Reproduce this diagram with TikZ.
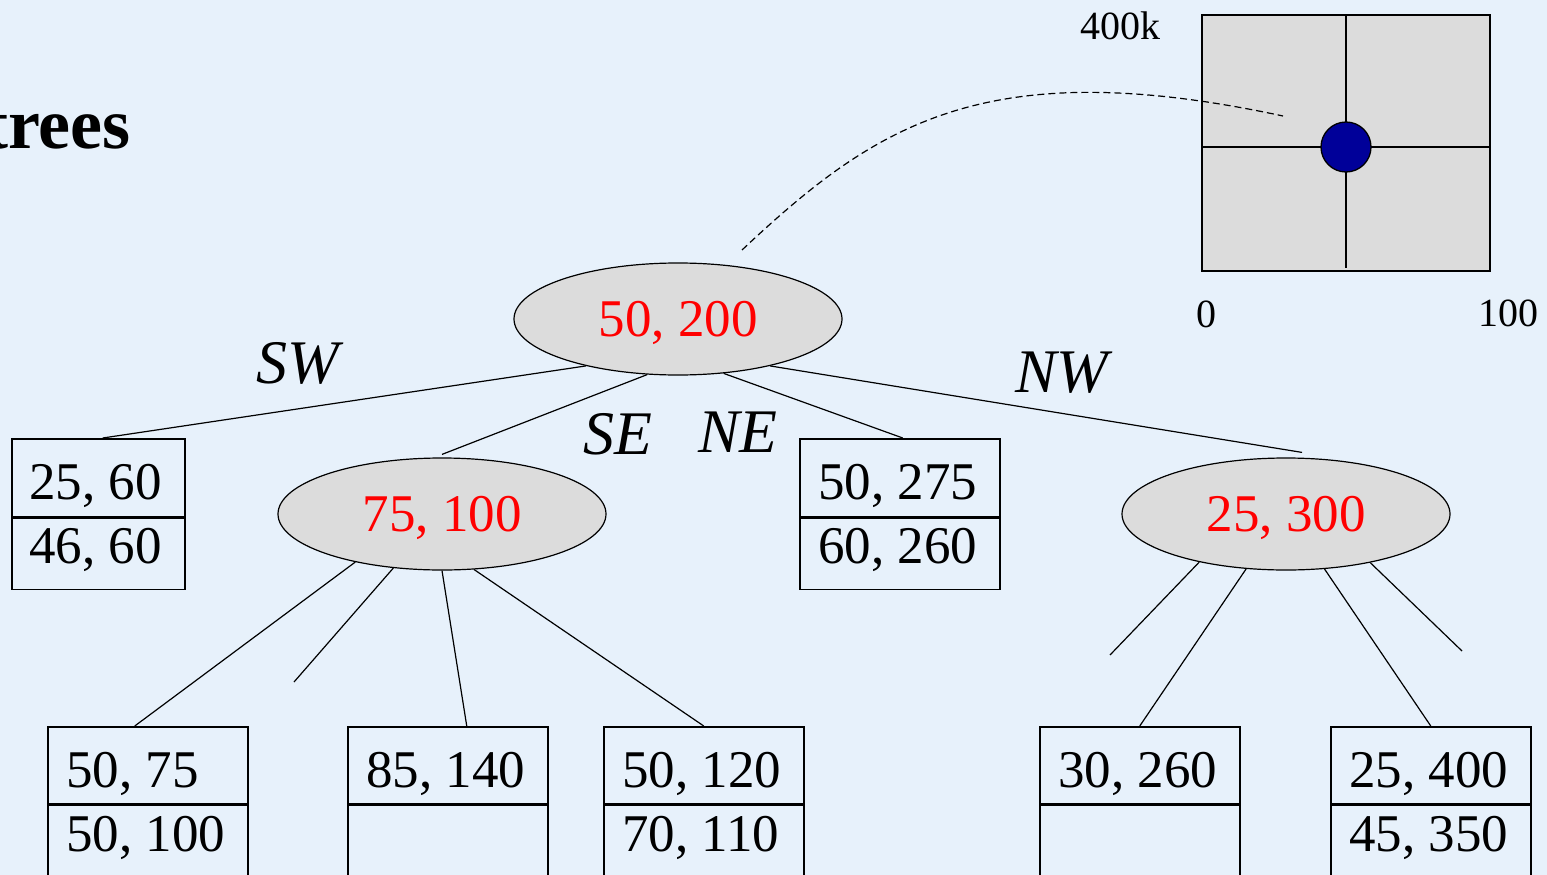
\documentclass[tikz,border=0pt]{standalone}
\usepackage{fontspec}
\setmainfont{Liberation Serif}
\usetikzlibrary{shapes.geometric}
\definecolor{bgblue}{RGB}{231,241,251}
\definecolor{nodegray}{RGB}{220,220,220}
\definecolor{dotblue}{RGB}{0,0,153}
\tikzset{
  ell/.style={ellipse, draw, fill=nodegray, line width=1.2pt, minimum width=328pt, minimum height=112pt,
    inner sep=0pt, text=red, font=\fontsize{53}{53}\selectfont, text depth=0pt},
  half/.style={rectangle, draw, line width=1.5pt, inner sep=0pt},
  num/.style={inner sep=0pt, font=\fontsize{53}{53}\selectfont, anchor=west},
  dir/.style={inner sep=0pt, font=\fontsize{62}{62}\selectfont\itshape, text depth=0pt},
  axis/.style={inner sep=0pt, font=\fontsize{40}{40}\selectfont, text depth=0pt},
  edge/.style={line width=1.2pt},
}
\begin{document}
\begin{tikzpicture}[x=1pt,y=-1pt]
\useasboundingbox (0,0) rectangle (1547,875);
\fill[bgblue] (0,0) rectangle (1547,875);
\clip (0,0) rectangle (1547,875);

% title fragment
\node[inner sep=0pt, anchor=base east, font=\fontsize{72}{72}\selectfont\bfseries] (title) at (131,148) {trees};

% inset square
\node[rectangle, draw, fill=nodegray, line width=1.5pt, minimum width=288pt, minimum height=256pt, inner sep=0pt] (sq) at (1346,143) {};
\draw[line width=1.3pt] ([yshift=-4pt]sq.west) -- ([yshift=-4pt]sq.east);
\draw[line width=1.3pt] (sq.north) -- ([yshift=4pt]sq.south);
\node[circle, draw, fill=dotblue, line width=1.3pt, minimum size=50pt, inner sep=0pt] (dot) at (1346,147) {};
\node[axis] (l400) at (1120,26) {400k};
\node[axis] (l0) at (1206,314) {0};
\node[axis] (l100) at (1508,313) {100};

% tree ellipses
\node[ell] (root) at (678,319) {50, 200};
\node[ell] (e2) at (442,514) {75, 100};
\node[ell] (e3) at (1286,514) {25, 300};

% boxes level 1
\node[half, minimum width=173pt, minimum height=78pt, anchor=north west] (b1t) at (11,438) {};
\node[half, minimum width=173pt, minimum height=71pt, anchor=north] (b1b) at (b1t.south) {};
\node[num] (t1a) at (29,486) {25, 60};
\node[num] (t1b) at (29,550) {46, 60};

\node[half, minimum width=200pt, minimum height=78pt, anchor=north west] (b2t) at (799,438) {};
\node[half, minimum width=200pt, minimum height=71pt, anchor=north] (b2b) at (b2t.south) {};
\node[num] (t2a) at (818,486) {50, 275};
\node[num] (t2b) at (818,550) {60, 260};

% boxes level 2
\foreach \n/\x/\a/\b in {b3/47/{50, 75}/{50, 100}, b4/347/{85, 140}/{}, b5/603/{50, 120}/{70, 110}, b6/1039/{30, 260}/{}, b7/1330/{25, 400}/{45, 350}}{
  \node[half, minimum width=200pt, minimum height=77pt, anchor=north west] (\n t) at (\x,726) {};
  \node[half, minimum width=200pt, minimum height=77pt, anchor=north] (\n b) at (\n t.south) {};
  \node[num] (\n ta) at (\x+19,774) {\a};
  \node[num] (\n tb) at (\x+19,838) {\b};
}

% direction labels
\node[dir] (sw) at (298,363) {SW};
\node[dir] (se) at (618,434) {SE};
\node[dir] (ne) at (738,432) {NE};
\node[dir] (nw) at (1062,372) {NW};

% root edges
\draw[edge] (root.207.6) -- ([xshift=4.5pt]b1t.north);
\draw[edge] (root.241) -- ([yshift=3pt]e2.north);
\draw[edge] (root.310) -- ([xshift=3pt]b2t.north);
\draw[edge] (root.333) -- ([xshift=16pt,yshift=5pt]e3.north);

% 75,100 edges
\coordinate (s1) at (294,682);
\draw[edge] (e2.209.7) -- ([xshift=-13pt]b3t.north);
\draw[edge] (e2.228) -- (s1);
\draw[edge] (e2.270) -- ([xshift=19pt]b4t.north);
\draw[edge] (e2.300.7) -- (b5t.north);

% 25,300 edges
\coordinate (s2) at (1110,655);
\coordinate (s3) at (1462,651);
\draw[edge] (e3.209) -- (s2);
\draw[edge] (e3.234.9) -- (b6t.north);
\draw[edge] (e3.305.1) -- (b7t.north);
\draw[edge] (e3.330.9) -- (s3);

% dashed pointer
\coordinate (ds) at (742,250);
\coordinate (de) at (1283,116);
\draw[edge, dash pattern=on 7pt off 4pt] (ds) .. controls (875,125) and (985,52) .. (de);
\end{tikzpicture}
\end{document}
